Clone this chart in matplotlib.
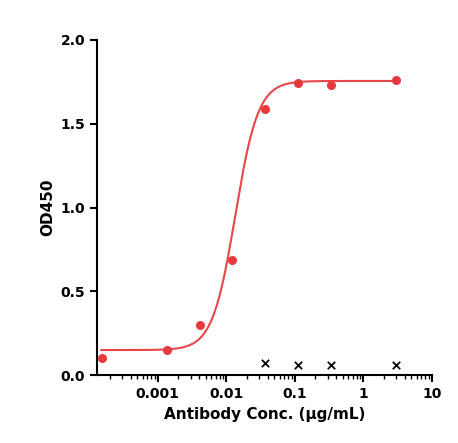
import numpy as np
import matplotlib.pyplot as plt

conc = [0.000152, 0.00137, 0.0041, 0.0123, 0.037, 0.111, 0.333, 3.0]
od = [0.10, 0.15, 0.30, 0.69, 1.59, 1.74, 1.73, 1.76]
ctrl_conc = [0.037, 0.111, 0.333, 3.0]
ctrl_od = [0.07, 0.06, 0.06, 0.06]
xticks = [0.001, 0.01, 0.1, 1, 10]
xticklabels = ["0.001", "0.01", "0.1", "1", "10"]

# 4PL fit parameters (bottom, top, ec50, hill)
bottom, top, ec50, hill = 0.15, 1.755, 0.0135, 2.6

fig = plt.figure(figsize=(4.58, 4.43), dpi=100)
ax = fig.add_axes([0.212, 0.153, 0.731, 0.757])

xs = np.logspace(np.log10(0.00015), np.log10(3.2), 300)
ys = bottom + (top - bottom) / (1 + (ec50 / xs) ** hill)
ax.plot(xs, ys, color="#e8474a", lw=1.5)
ax.scatter(conc, od, color="#e8383d", s=30, zorder=3)
ax.scatter(ctrl_conc, ctrl_od, color="black", marker="x", s=28, lw=1.3, zorder=3)

ax.set_xscale("log")
ax.set_xlim(0.00013, 10)
ax.set_ylim(0, 2.0)
ax.set_xticks(xticks)
ax.set_xticklabels(xticklabels)
ax.set_yticks([0, 0.5, 1.0, 1.5, 2.0])
ax.set_yticklabels(["0.0", "0.5", "1.0", "1.5", "2.0"])
ax.minorticks_on()
ax.yaxis.set_minor_locator(plt.NullLocator())
ax.spines["top"].set_visible(False)
ax.spines["right"].set_visible(False)
for s in ("left", "bottom"):
    ax.spines[s].set_linewidth(1.5)
ax.tick_params(width=1.5, length=5, labelsize=10)
ax.tick_params(which="minor", width=1, length=3)
for lbl in ax.get_xticklabels() + ax.get_yticklabels():
    lbl.set_fontweight("bold")
ax.set_xlabel("Antibody Conc. (μg/mL)", fontweight="bold", fontsize=11)
ax.set_ylabel("OD450", fontweight="bold", fontsize=11)

fig.savefig("out.png", dpi=100)
